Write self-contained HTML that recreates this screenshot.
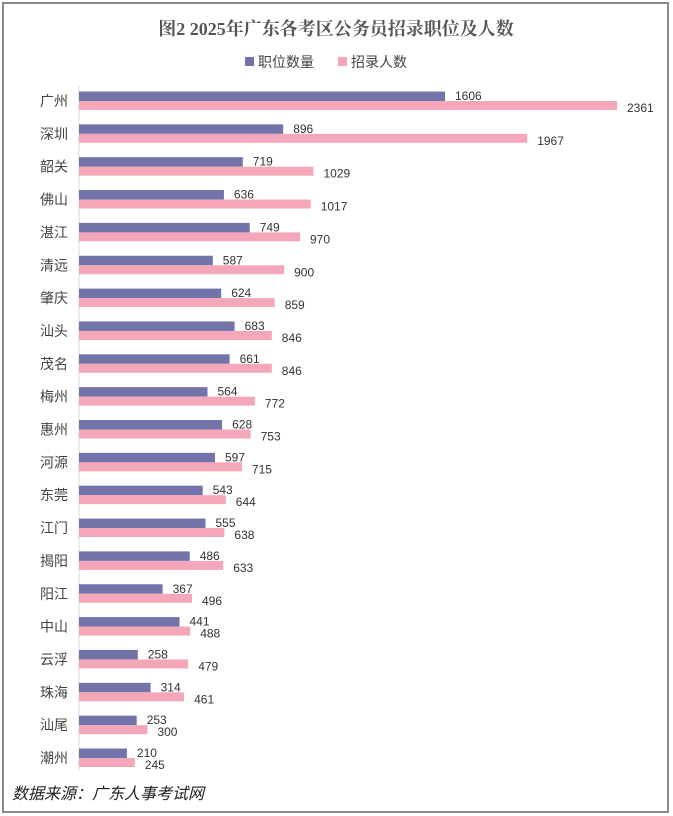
<!DOCTYPE html>
<html><head><meta charset="utf-8"><style>
body{margin:0;background:#fff;}
.c{font-size:14px;fill:#444;text-anchor:end}
.v{font-size:12px;fill:#333}
</style></head><body>
<svg width="673" height="816" xmlns="http://www.w3.org/2000/svg" style="display:block;font-family:'Liberation Sans','Noto Sans CJK SC',sans-serif">
<rect x="0" y="0" width="673" height="816" fill="#fff"/>
<rect x="3" y="3" width="665" height="809" fill="none" stroke="#8a8a8a" stroke-width="2"/>
<text x="336" y="35" text-anchor="middle" font-family="'Liberation Serif','Noto Serif CJK SC',serif" font-weight="bold" font-size="18" fill="#555">图2 2025年广东各考区公务员招录职位及人数</text>
<rect x="245" y="57" width="9" height="9" fill="#7273a8"/>
<text x="258" y="67" font-size="14" fill="#444">职位数量</text>
<rect x="338" y="57" width="9" height="9" fill="#f4a7b9"/>
<text x="351" y="67" font-size="14" fill="#444">招录人数</text>
<line x1="79" y1="86" x2="79" y2="771" stroke="#d9d9d9" stroke-width="1"/>

<g transform="translate(0,101)"><text class="c" x="68" y="5">广州</text><rect x="79" y="-9.5" width="366" height="9.5" fill="#7273a8"/><rect x="79" y="0" width="538" height="9" fill="#f4a7b9"/><text class="v" x="455" y="-1">1606</text><text class="v" x="627" y="11">2361</text></g>
<g transform="translate(0,133.85)"><text class="c" x="68" y="5">深圳</text><rect x="79" y="-9.5" width="204.2" height="9.5" fill="#7273a8"/><rect x="79" y="0" width="448.2" height="9" fill="#f4a7b9"/><text class="v" x="293.2" y="-1">896</text><text class="v" x="537.2" y="11">1967</text></g>
<g transform="translate(0,166.7)"><text class="c" x="68" y="5">韶关</text><rect x="79" y="-9.5" width="163.8" height="9.5" fill="#7273a8"/><rect x="79" y="0" width="234.5" height="9" fill="#f4a7b9"/><text class="v" x="252.8" y="-1">719</text><text class="v" x="323.5" y="11">1029</text></g>
<g transform="translate(0,199.55)"><text class="c" x="68" y="5">佛山</text><rect x="79" y="-9.5" width="144.9" height="9.5" fill="#7273a8"/><rect x="79" y="0" width="231.7" height="9" fill="#f4a7b9"/><text class="v" x="233.9" y="-1">636</text><text class="v" x="320.7" y="11">1017</text></g>
<g transform="translate(0,232.4)"><text class="c" x="68" y="5">湛江</text><rect x="79" y="-9.5" width="170.7" height="9.5" fill="#7273a8"/><rect x="79" y="0" width="221" height="9" fill="#f4a7b9"/><text class="v" x="259.7" y="-1">749</text><text class="v" x="310" y="11">970</text></g>
<g transform="translate(0,265.25)"><text class="c" x="68" y="5">清远</text><rect x="79" y="-9.5" width="133.8" height="9.5" fill="#7273a8"/><rect x="79" y="0" width="205.1" height="9" fill="#f4a7b9"/><text class="v" x="222.8" y="-1">587</text><text class="v" x="294.1" y="11">900</text></g>
<g transform="translate(0,298.1)"><text class="c" x="68" y="5">肇庆</text><rect x="79" y="-9.5" width="142.2" height="9.5" fill="#7273a8"/><rect x="79" y="0" width="195.7" height="9" fill="#f4a7b9"/><text class="v" x="231.2" y="-1">624</text><text class="v" x="284.7" y="11">859</text></g>
<g transform="translate(0,330.95)"><text class="c" x="68" y="5">汕头</text><rect x="79" y="-9.5" width="155.6" height="9.5" fill="#7273a8"/><rect x="79" y="0" width="192.8" height="9" fill="#f4a7b9"/><text class="v" x="244.6" y="-1">683</text><text class="v" x="281.8" y="11">846</text></g>
<g transform="translate(0,363.8)"><text class="c" x="68" y="5">茂名</text><rect x="79" y="-9.5" width="150.6" height="9.5" fill="#7273a8"/><rect x="79" y="0" width="192.8" height="9" fill="#f4a7b9"/><text class="v" x="239.6" y="-1">661</text><text class="v" x="281.8" y="11">846</text></g>
<g transform="translate(0,396.65)"><text class="c" x="68" y="5">梅州</text><rect x="79" y="-9.5" width="128.5" height="9.5" fill="#7273a8"/><rect x="79" y="0" width="175.9" height="9" fill="#f4a7b9"/><text class="v" x="217.5" y="-1">564</text><text class="v" x="264.9" y="11">772</text></g>
<g transform="translate(0,429.5)"><text class="c" x="68" y="5">惠州</text><rect x="79" y="-9.5" width="143.1" height="9.5" fill="#7273a8"/><rect x="79" y="0" width="171.6" height="9" fill="#f4a7b9"/><text class="v" x="232.1" y="-1">628</text><text class="v" x="260.6" y="11">753</text></g>
<g transform="translate(0,462.35)"><text class="c" x="68" y="5">河源</text><rect x="79" y="-9.5" width="136" height="9.5" fill="#7273a8"/><rect x="79" y="0" width="162.9" height="9" fill="#f4a7b9"/><text class="v" x="225" y="-1">597</text><text class="v" x="251.9" y="11">715</text></g>
<g transform="translate(0,495.2)"><text class="c" x="68" y="5">东莞</text><rect x="79" y="-9.5" width="123.7" height="9.5" fill="#7273a8"/><rect x="79" y="0" width="146.8" height="9" fill="#f4a7b9"/><text class="v" x="212.7" y="-1">543</text><text class="v" x="235.8" y="11">644</text></g>
<g transform="translate(0,528.05)"><text class="c" x="68" y="5">江门</text><rect x="79" y="-9.5" width="126.5" height="9.5" fill="#7273a8"/><rect x="79" y="0" width="145.4" height="9" fill="#f4a7b9"/><text class="v" x="215.5" y="-1">555</text><text class="v" x="234.4" y="11">638</text></g>
<g transform="translate(0,560.9)"><text class="c" x="68" y="5">揭阳</text><rect x="79" y="-9.5" width="110.7" height="9.5" fill="#7273a8"/><rect x="79" y="0" width="144.2" height="9" fill="#f4a7b9"/><text class="v" x="199.7" y="-1">486</text><text class="v" x="233.2" y="11">633</text></g>
<g transform="translate(0,593.75)"><text class="c" x="68" y="5">阳江</text><rect x="79" y="-9.5" width="83.6" height="9.5" fill="#7273a8"/><rect x="79" y="0" width="113" height="9" fill="#f4a7b9"/><text class="v" x="172.6" y="-1">367</text><text class="v" x="202" y="11">496</text></g>
<g transform="translate(0,626.6)"><text class="c" x="68" y="5">中山</text><rect x="79" y="-9.5" width="100.5" height="9.5" fill="#7273a8"/><rect x="79" y="0" width="111.2" height="9" fill="#f4a7b9"/><text class="v" x="189.5" y="-1">441</text><text class="v" x="200.2" y="11">488</text></g>
<g transform="translate(0,659.45)"><text class="c" x="68" y="5">云浮</text><rect x="79" y="-9.5" width="58.8" height="9.5" fill="#7273a8"/><rect x="79" y="0" width="109.2" height="9" fill="#f4a7b9"/><text class="v" x="147.8" y="-1">258</text><text class="v" x="198.2" y="11">479</text></g>
<g transform="translate(0,692.3)"><text class="c" x="68" y="5">珠海</text><rect x="79" y="-9.5" width="71.6" height="9.5" fill="#7273a8"/><rect x="79" y="0" width="105.1" height="9" fill="#f4a7b9"/><text class="v" x="160.6" y="-1">314</text><text class="v" x="194.1" y="11">461</text></g>
<g transform="translate(0,725.15)"><text class="c" x="68" y="5">汕尾</text><rect x="79" y="-9.5" width="57.7" height="9.5" fill="#7273a8"/><rect x="79" y="0" width="68.4" height="9" fill="#f4a7b9"/><text class="v" x="146.7" y="-1">253</text><text class="v" x="157.4" y="11">300</text></g>
<g transform="translate(0,758)"><text class="c" x="68" y="5">潮州</text><rect x="79" y="-9.5" width="47.9" height="9.5" fill="#7273a8"/><rect x="79" y="0" width="55.8" height="9" fill="#f4a7b9"/><text class="v" x="136.9" y="-1">210</text><text class="v" x="144.8" y="11">245</text></g>

<text x="12" y="799" font-size="16" font-style="italic" fill="#222">数据来源：广东人事考试网</text>
</svg>
</body></html>
